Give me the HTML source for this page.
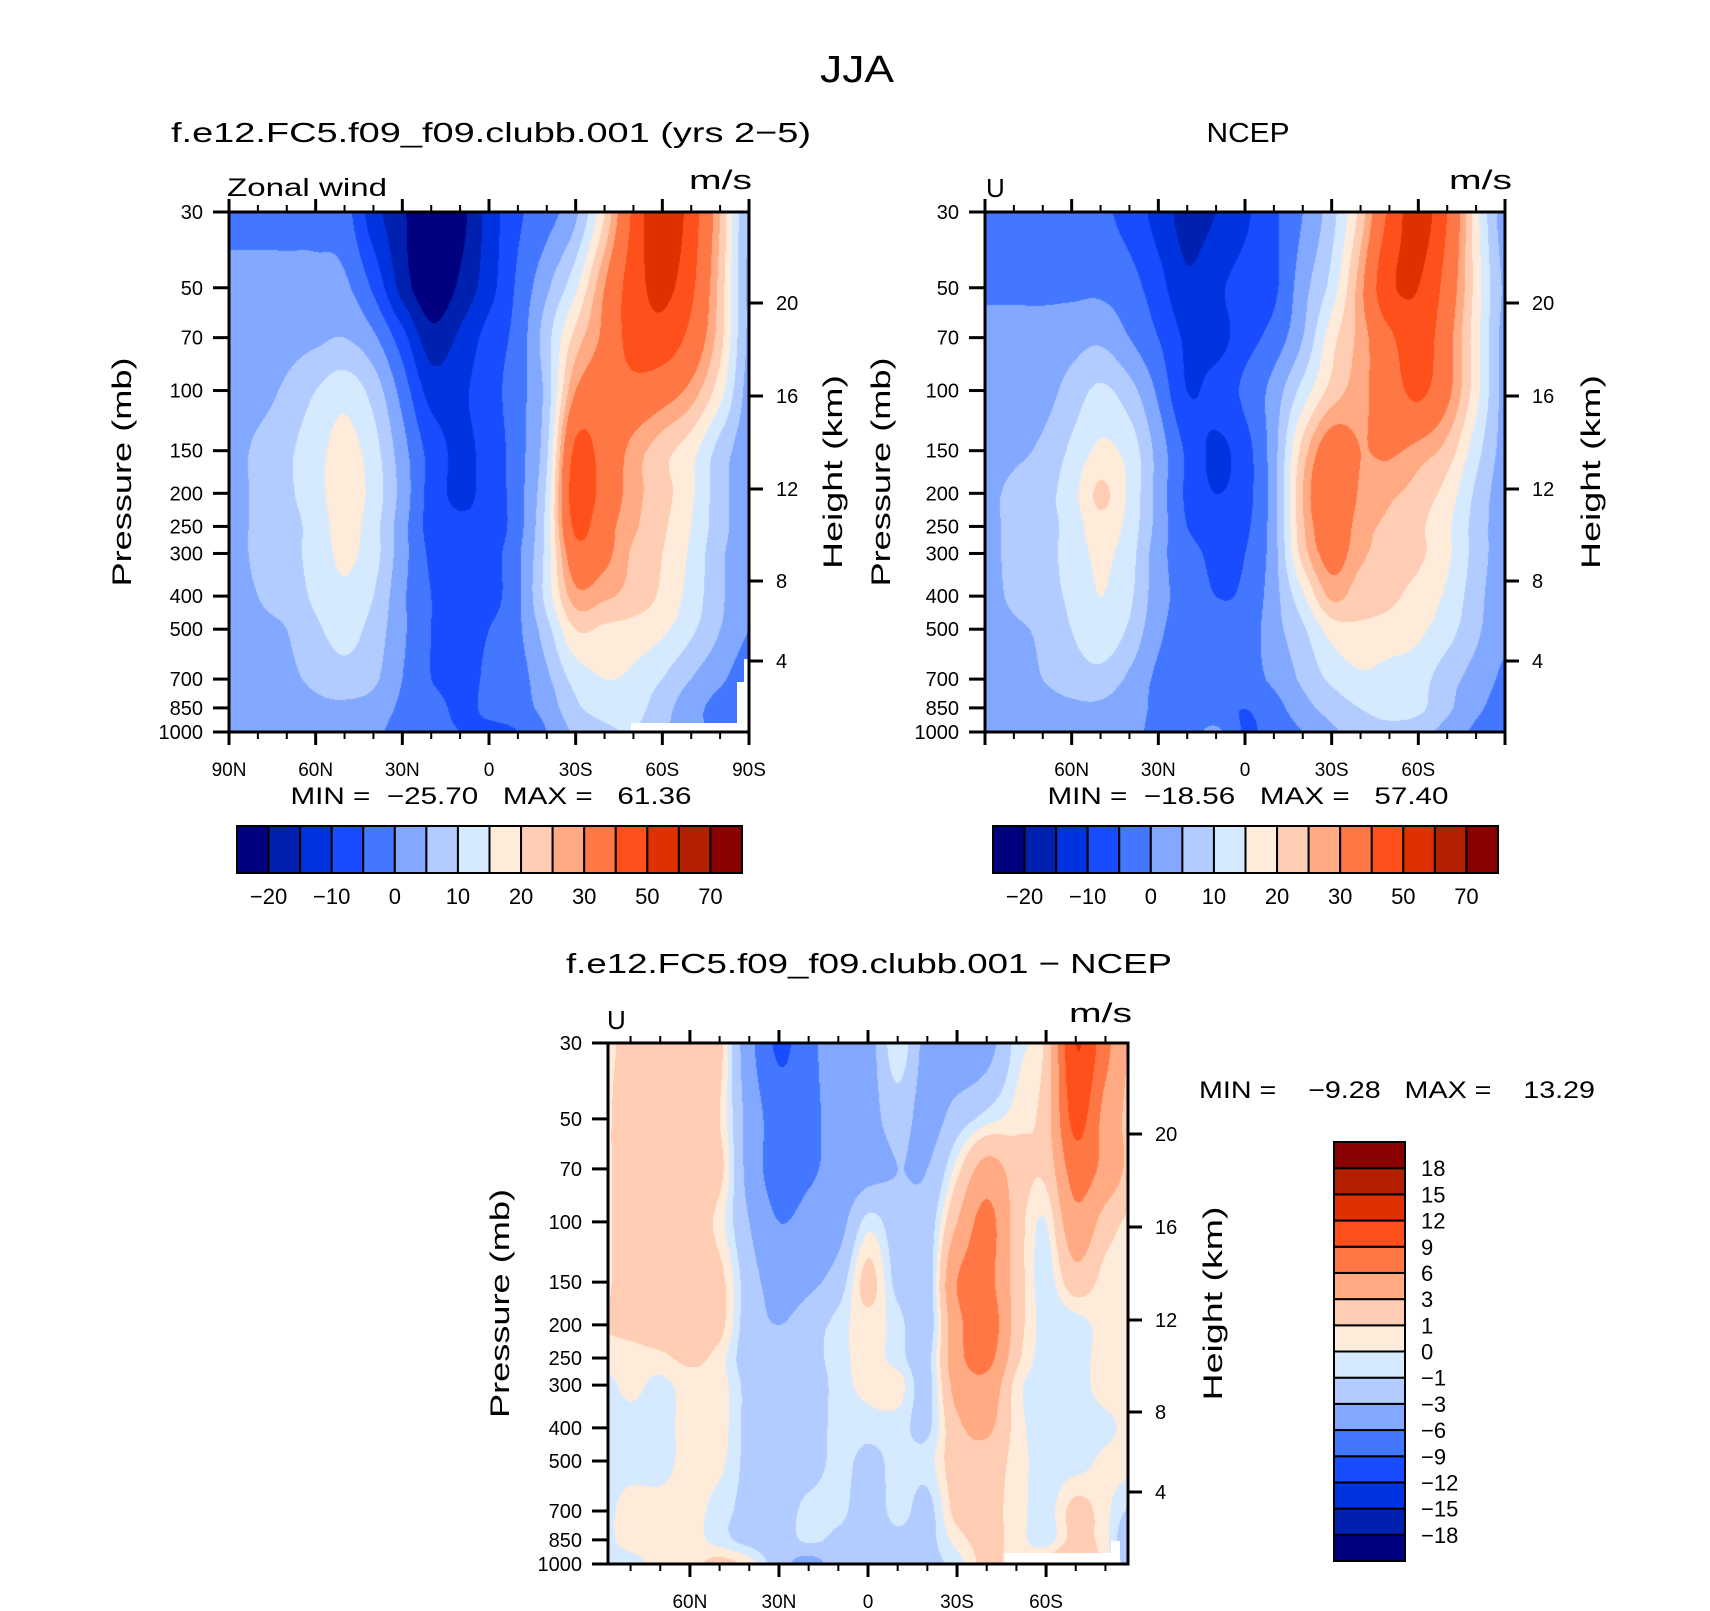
<!DOCTYPE html>
<html><head><meta charset="utf-8">
<style>
html,body{margin:0;padding:0;background:#fff;}
#root{position:relative;width:1710px;height:1611px;overflow:hidden;background:#fff;font-family:"Liberation Sans",sans-serif;}
canvas{position:absolute;}
svg{position:absolute;left:0;top:0;}
text{font-family:"Liberation Sans",sans-serif;fill:#000;white-space:pre;}
</style></head>
<body>
<div id="root">
<canvas id="c1" width="520" height="520" style="left:229px;top:212px"></canvas>
<canvas id="c2" width="520" height="521" style="left:985px;top:212px"></canvas>
<canvas id="c3" width="520" height="521" style="left:608px;top:1043px"></canvas>
<svg id="svg" width="1710" height="1611"></svg>
</div>
<script>
// ---- data ----
const lats = [90,80,70,60,50,40,30,20,10,0,-10,-20,-30,-40,-50,-60,-70,-80,-90];
const plevs = [30,50,70,100,150,200,250,300,400,500,700,850,1000];
const pTickLabels = [30,50,70,100,150,200,250,300,400,500,700,850,1000];
const heightTicks = [20,16,12,8,4];
const heightTickOffsets = [91,184,277,369,449];
const levelsMain = [-20,-15,-10,-5,0,5,10,15,20,25,30,40,50,60,70];
const levelsDiff = [-18,-15,-12,-9,-6,-3,-1,0,1,3,6,9,12,15,18];
const palette = ["#000080","#0020b0","#0033e0","#1a4cff","#4477ff","#82a8ff","#b3ccff","#d6eaff","#ffebd9","#ffcdb3","#ffaa82","#ff7744","#ff4f1a","#e03000","#b32000","#8b0000"];
const mainBarLabels = ["\u221220","\u221210","0","10","20","30","50","70"];
const diffBarLabels = ["18","15","12","9","6","3","1","0","\u22121","\u22123","\u22126","\u22129","\u221212","\u221215","\u221218"];

const modelU = [
 [-2,-2,-2,-2,-3,-13,-19,-26,-22,-13,-6,-2,4,20,42,60,45,25,4],
 [2,2,2,2,1,-6,-17,-24,-19,-12,-4,4,14,30,45,53,42,23,4],
 [2,2,3,4,5,1,-8,-18,-14,-8,-3,8,22,32,44,46,37,22,4],
 [2,3,6,10,13,8,-2,-12,-11,-7,-2,7,30,35,37,34,28,17,3],
 [3,6,9,13,17,12,2,-7,-11,-8,-2,9,42,36,28,22,17,8,2],
 [3,6,9,13,18,13,3,-7,-11,-8,-2,11,45,36,27,22,16,7,2],
 [3,6,8,12,17,12,2,-7,-9,-8,-2,12,42,33,26,21,15,7,2],
 [3,6,8,12,16,12,2,-6,-8,-7,-1,12,36,32,24,20,14,6,2],
 [3,5,7,11,14,10,1,-5,-8,-7,-1,12,28,26,23,19,13,6,1],
 [2,4,5,9,12,8,1,-5,-7,-5,-1,8,20,19,18,16,11,5,0],
 [2,3,4,6,8,6,0,-5,-7,-4,-2,4,12,15,14,10,5,1,-3],
 [2,2,3,4,4,3,-1,-3,-6,-4,-2,2,9,12,12,7,2,-2,-5],
 [2,2,1,2,2,1,-2,-4,-5,-6,-5,0,6,9,10,6,2,-2,-5]
];
const ncepU = [
 [-2,-2,-2,-3,-4,-7,-12,-17,-15,-11,-6,0,8,22,42,55,40,17,2],
 [-1,-1,-1,-1,-1,-3,-8,-14,-11,-8,-6,3,12,28,48,50,36,18,4],
 [2,2,2,3,4,0,-5,-11,-12,-7,-3,5,18,27,38,46,33,17,3],
 [2,2,3,7,11,7,-1,-10,-8,-4,2,12,22,28,35,42,32,17,3],
 [3,4,6,11,16,13,3,-6,-11,-7,3,22,35,30,31,28,23,12,3],
 [4,6,8,13,21,14,3,-6,-10,-7,3,25,39,29,26,23,18,9,2],
 [4,6,8,12,18,13,3,-5,-7,-6,3,24,36,27,24,21,16,8,2],
 [4,6,8,12,16,12,2,-3,-6,-5,3,22,33,26,23,21,16,8,2],
 [3,6,8,11,15,11,2,-2,-5,-4,3,14,26,22,21,18,14,7,1],
 [2,4,6,10,14,9,1,-2,-3,-3,3,9,17,19,18,16,12,6,1],
 [2,3,5,7,8,4,-1,-2,-3,-2,1,6,11,14,13,12,7,3,-1],
 [1,2,3,4,4,2,-1,-2,-3,-5,-2,3,7,10,12,11,6,1,-2],
 [1,1,1,2,2,1,-1,-2,1,-5.5,-3,0,4,7,8,7,3,-1,-3]
];
const diffU = [
 [0.5,1.5,2,2,1.5,-5,-9.5,-7,-4,-4,0,-4,-5,-4,-0.5,1.5,12,7,2],
 [0.5,2,2,2,1,-4,-7.5,-7,-4.5,-4,-2,-4,-2,-0.5,0.5,2,10,5,2],
 [0.5,2,2,2,1.5,-4,-7.5,-6.5,-5,-4,-3,-3,0.5,4,2,1.5,7.5,5,2],
 [0.5,2,2,2,0.5,-3,-6,-5,-4,-0.5,-2,-2,3,7,2,0,5,2,0.5],
 [0.5,2,2,2,1.5,-2,-4,-3.5,-2,1.5,-1.5,-2,6,7,2,-0.5,2,0.5,0.5],
 [1,1.5,2,2,1.5,-2,-3,-2,-0.5,0.5,-0.5,-2,5,8,2,-0.5,-0.5,0.5,0.5],
 [0.5,0.5,0.7,1.3,0.5,-2,-2,-1.5,-0.5,0.5,-0.5,-1.5,5,7,1.5,-0.5,-0.5,0.5,0.5],
 [-0.5,0.3,-0.3,0.5,0.5,-1.5,-2,-2,-0.5,0.3,0.5,-1.5,4,5,0.5,-0.5,-0.5,0.5,0.5],
 [-0.5,-0.5,-0.5,0.5,0.5,-1.5,-2,-2,-0.5,-0.5,-0.5,-1.3,2.5,3.5,0.5,-0.5,-0.5,-0.3,0.5],
 [-0.5,-0.5,-0.5,0.5,0.3,-1.5,-2,-2,-0.5,-1.5,-0.5,-0.5,2,2,0.5,-0.5,-0.5,0.3,0.5],
 [-0.5,0.5,0.5,0.5,-0.5,-1.5,-2,-0.5,-0.5,-2,-0.5,-1.5,1.5,1.5,0.5,-0.5,1.5,0.3,-1.5],
 [-0.5,0.5,0.5,0.5,-0.5,-1.5,-2,-0.7,-1.5,-2,-1.5,-1.5,0.5,1.5,0.5,-0.5,1.5,0.3,-3],
 [-0.5,-0.5,0.5,0.5,1.5,0.5,-2,-4,-2,-3,-2,-1.5,-0.5,1.5,0.5,1.5,3,0.5,-2]
];

// ---- helpers ----
function hexRGB(h){return [parseInt(h.substr(1,2),16),parseInt(h.substr(3,2),16),parseInt(h.substr(5,2),16)];}
const palRGB = palette.map(hexRGB);
const LOGSPAN = Math.log10(1000/30);
function pressToFrac(p){return Math.log10(p/30)/LOGSPAN;}
function cr(p0,p1,p2,p3,t){
  return 0.5*((2*p1)+(-p0+p2)*t+(2*p0-5*p1+4*p2-p3)*t*t+(-p0+3*p1-3*p2+p3)*t*t*t);
}
function rowVal(row, cf){
  const n=row.length; const c0=Math.floor(cf), t=cf-c0;
  const g=i=>row[Math.max(0,Math.min(n-1,i))];
  return cr(g(c0-1),g(c0),g(c0+1),g(c0+2),t);
}
function sample(grid, lat, p){
  let cf = (90-lat)/10; cf = Math.max(0,Math.min(lats.length-1.0001,cf));
  const lp = Math.log(p);
  let r0 = 0;
  while(r0 < plevs.length-2 && Math.log(plevs[r0+1]) < lp) r0++;
  let rt = (lp-Math.log(plevs[r0]))/(Math.log(plevs[r0+1])-Math.log(plevs[r0]));
  rt = Math.max(0,Math.min(1,rt));
  const m = plevs.length;
  const R = i=>rowVal(grid[Math.max(0,Math.min(m-1,i))],cf);
  return cr(R(r0-1),R(r0),R(r0+1),R(r0+2),rt);
}
function drawField(id, grid, levels, latL, latR){
  const cv = document.getElementById(id), ctx = cv.getContext('2d');
  const W = cv.width, H = cv.height, img = ctx.createImageData(W,H);
  for(let y=0;y<H;y++){
    const p = 30*Math.pow(10,(y+0.5)/H*LOGSPAN);
    for(let x=0;x<W;x++){
      const lat = latL + (x+0.5)/W*(latR-latL);
      const v = sample(grid,lat,p);
      let k=0; while(k<levels.length && v>=levels[k]) k++;
      const col = palRGB[k], i=(y*W+x)*4;
      img.data[i]=col[0];img.data[i+1]=col[1];img.data[i+2]=col[2];img.data[i+3]=255;
    }
  }
  ctx.putImageData(img,0,0);
}
drawField('c1',modelU,levelsMain,90,-90);
drawField('c2',ncepU,levelsMain,90,-90);
drawField('c3',diffU,levelsDiff,87.6,-87.6);

const svg = document.getElementById('svg');
const NS = "http://www.w3.org/2000/svg";
function mk(tag, attrs, name, txt){
  const e = document.createElementNS(NS,tag);
  for(const k in attrs) e.setAttribute(k,attrs[k]);
  
  
  if(txt!==undefined) e.textContent = txt;
  svg.appendChild(e); return e;
}
function txt(x,y,s,size,anchor,name,extra){
  const a = {x:x,y:y,'font-size':size,'text-anchor':anchor||'start'};
  if(extra) for(const k in extra) a[k]=extra[k];
  return mk('text',a,name,s);
}

// white (below-ground) masks
function rect(x,y,w,h,fill,name){return mk('rect',{x:x,y:y,width:w,height:h,fill:fill},name);}
rect(631,723,118,10,'#fff','missing-data-mask');
rect(737,682,12,51,'#fff','missing-data-mask');
rect(744,659,5,74,'#fff','missing-data-mask');
rect(1005,1553,106,11,'#fff','missing-data-mask');
rect(1111,1541,9,23,'#fff','missing-data-mask');

// ---- axes ----
function axes(P){
  const {x0,y0,w,h,latL,latR,xlabels,prefix} = P;
  mk('rect',{x:x0,y:y0,width:w,height:h,fill:'none',stroke:'#000','stroke-width':3},prefix+'-plot-frame');
  const lx = lat => x0 + (latL-lat)/(latL-latR)*w;
  for(let lat=90; lat>=-90; lat-=10){
    if(lat>latL+0.01 || lat<latR-0.01) continue;
    const X = lx(lat), major = (lat%30===0);
    const L = major?13:7;
    mk('line',{x1:X,y1:y0,x2:X,y2:y0-L,stroke:'#000','stroke-width':major?3:2},prefix+'-top-tick');
    mk('line',{x1:X,y1:y0+h,x2:X,y2:y0+h+L,stroke:'#000','stroke-width':major?3:2},prefix+'-bottom-tick');
  }
  xlabels.forEach(l=>{ txt(lx(l[0]), y0+h+44, l[1], 19, 'middle', prefix+'-x-tick-label'); });
  pTickLabels.forEach(p=>{
    const Y = y0 + pressToFrac(p)*h;
    mk('line',{x1:x0,y1:Y,x2:x0-16,y2:Y,stroke:'#000','stroke-width':3},prefix+'-pressure-tick');
    txt(x0-26, Y+7, String(p), 20, 'end', prefix+'-pressure-tick-label');
  });
  heightTicks.forEach((z,i)=>{
    const Y = y0 + heightTickOffsets[i];
    mk('line',{x1:x0+w,y1:Y,x2:x0+w+14,y2:Y,stroke:'#000','stroke-width':3},prefix+'-height-tick');
    txt(x0+w+27, Y+7, String(z), 20, 'start', prefix+'-height-tick-label');
  });
  txt(0,0,'Pressure (mb)',27,'middle',prefix+'-y-axis-title',{transform:`translate(${P.ptx},${y0+h*0.5}) rotate(-90)`,textLength:229,lengthAdjust:'spacingAndGlyphs'});
  txt(0,0,'Height (km)',27,'middle',prefix+'-height-axis-title',{transform:`translate(${P.htx},${y0+h*0.5}) rotate(-90)`,textLength:194,lengthAdjust:'spacingAndGlyphs'});
}
axes({x0:229,y0:212,w:520,h:520,latL:90,latR:-90,prefix:'model',ptx:131,htx:842,
  xlabels:[[90,'90N'],[60,'60N'],[30,'30N'],[0,'0'],[-30,'30S'],[-60,'60S'],[-90,'90S']]});
axes({x0:985,y0:212,w:520,h:520,latL:90,latR:-90,prefix:'ncep',ptx:890,htx:1600,
  xlabels:[[60,'60N'],[30,'30N'],[0,'0'],[-30,'30S'],[-60,'60S']]});
axes({x0:608,y0:1043,w:520,h:521,latL:87.6,latR:-87.6,prefix:'diff',ptx:509,htx:1222,
  xlabels:[[60,'60N'],[30,'30N'],[0,'0'],[-30,'30S'],[-60,'60S']]});

// ---- titles ----
txt(857,82,'JJA',38,'middle','main-title',{textLength:74,lengthAdjust:'spacingAndGlyphs'});
txt(491,142,'f.e12.FC5.f09_f09.clubb.001 (yrs 2\u22125)',28,'middle','model-panel-title',{textLength:640,lengthAdjust:'spacingAndGlyphs'});
txt(1248,142,'NCEP',28,'middle','ncep-panel-title',{textLength:83,lengthAdjust:'spacingAndGlyphs'});
txt(869,973,'f.e12.FC5.f09_f09.clubb.001 \u2212 NCEP',28,'middle','diff-panel-title',{textLength:606,lengthAdjust:'spacingAndGlyphs'});
txt(227,196,'Zonal wind',25,'start','model-variable-label',{textLength:160,lengthAdjust:'spacingAndGlyphs'});
txt(752,189,'m/s',27,'end','model-units-label',{textLength:63,lengthAdjust:'spacingAndGlyphs'});
txt(986,197,'U',26,'start','ncep-variable-label');
txt(1512,189,'m/s',27,'end','ncep-units-label',{textLength:63,lengthAdjust:'spacingAndGlyphs'});
txt(607,1029,'U',26,'start','diff-variable-label');
txt(1132,1022,'m/s',27,'end','diff-units-label',{textLength:63,lengthAdjust:'spacingAndGlyphs'});
txt(491,804,'MIN =  \u221225.70   MAX =   61.36',24,'middle','model-min-max',{textLength:401,lengthAdjust:'spacingAndGlyphs'});
txt(1248,804,'MIN =  \u221218.56   MAX =   57.40',24,'middle','ncep-min-max',{textLength:401,lengthAdjust:'spacingAndGlyphs'});
txt(1199,1098,'MIN =    \u22129.28   MAX =    13.29',24,'start','diff-min-max',{textLength:396,lengthAdjust:'spacingAndGlyphs'});

// ---- colorbars ----
function hbar(x0,y0,w,h,prefix){
  const bw = w/palette.length;
  palette.forEach((c,i)=>{
    mk('rect',{x:x0+i*bw,y:y0,width:bw,height:h,fill:c,stroke:'#000','stroke-width':2},prefix+'-colorbar-box');
  });
  mainBarLabels.forEach((l,j)=>{
    const bx = x0 + (1+2*j)*bw;
    txt(bx,y0+h+31,l,22,'middle',prefix+'-colorbar-label');
  });
}
hbar(237,826,505,47,'model');
hbar(993,826,505,47,'ncep');
(function(){
  const x0=1334,y0=1142,w=71,h=419,bh=h/palette.length;
  palette.forEach((c,i)=>{
    mk('rect',{x:x0,y:y0+h-(i+1)*bh,width:w,height:bh,fill:c,stroke:'#000','stroke-width':2},'diff-colorbar-box');
  });
  diffBarLabels.forEach((l,j)=>{
    txt(x0+w+16, y0+(j+1)*bh+8, l, 22, 'start','diff-colorbar-label');
  });
})();
</script>
</body></html>
